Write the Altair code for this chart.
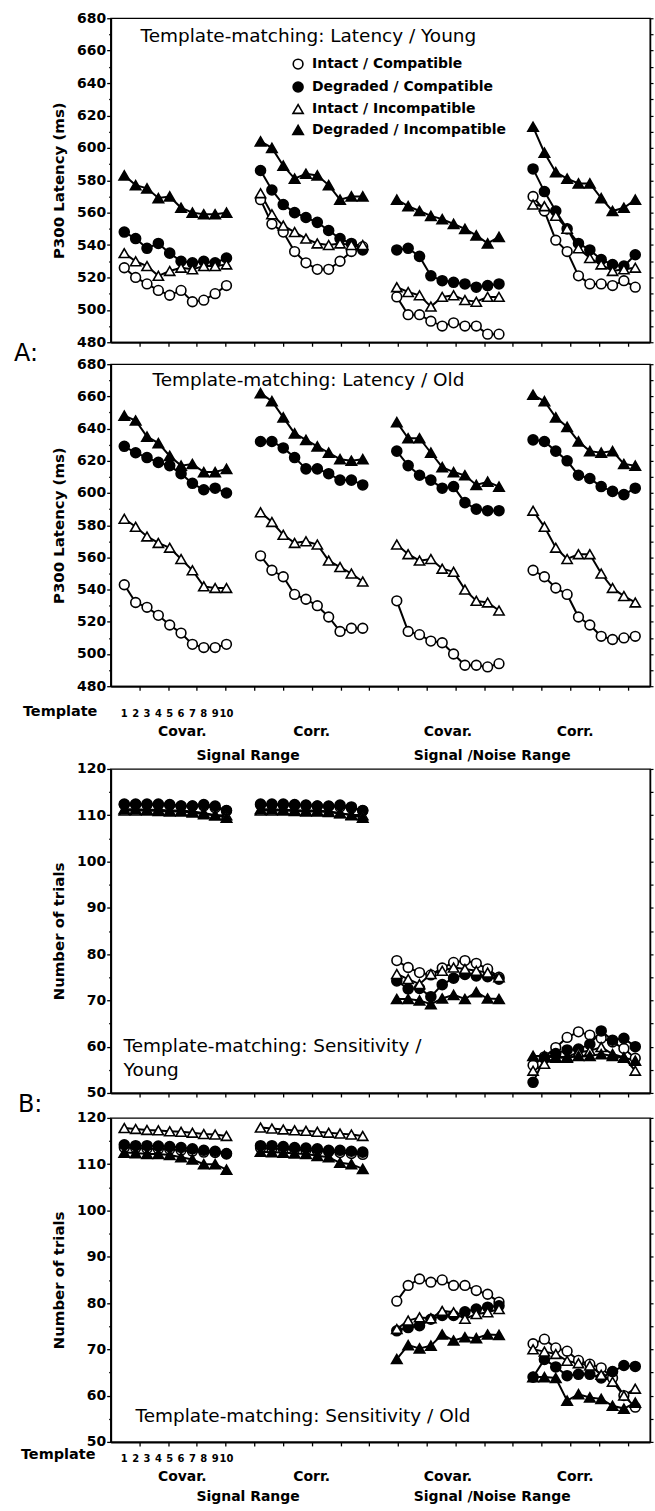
import altair as alt
import numpy as np
import pandas as pd

SERIES = ["Intact / Compatible", "Degraded / Compatible", "Intact / Incompatible", "Degraded / Incompatible"]
SHAPES = ["circle", "circle", "triangle-up", "triangle-up"]
FILLS = ["white", "black", "white", "black"]
STROKES = ["black", "black", "black", "black"]
SIZES = [95, 110, 130, 130]
TEMPLATES = list(range(1, 11))
GROUP_STEP = 12
GROUP_LABELS = ["Covar.", "Corr.", "Covar.", "Corr."]
GROUP_LABEL_X = [6.1, 17.5, 29.5, 40.7]
RANGE_LABELS = ["Signal Range", "Signal /Noise Range"]
RANGE_LABEL_X = [11.9, 33.4]

# ---- A: latency, young (4 groups x 10 templates) ----
lat_young_ic = [526, 520, 516, 512, 509, 512, 505, 506, 510, 515,
                568, 553, 548, 536, 529, 525, 525, 530, 536, 539,
                508, 497, 497, 493, 490, 492, 490, 490, 485, 485,
                570, 561, 543, 536, 521, 516, 516, 515, 518, 514]
lat_young_dc = [548, 544, 538, 541, 535, 530, 529, 530, 529, 532,
                586, 574, 565, 560, 557, 554, 549, 544, 541, 537,
                537, 538, 533, 521, 518, 517, 516, 514, 515, 516,
                587, 573, 561, 550, 541, 537, 531, 528, 527, 534]
lat_young_ii = [535, 530, 527, 521, 524, 526, 525, 527, 527, 528,
                572, 559, 552, 548, 544, 541, 540, 541, 540, 540,
                514, 511, 509, 502, 508, 509, 506, 505, 508, 508,
                565, 564, 558, 550, 538, 532, 528, 524, 525, 526]
lat_young_di = [583, 577, 575, 569, 570, 563, 560, 559, 559, 560,
                604, 600, 589, 581, 584, 583, 577, 568, 570, 570,
                568, 564, 561, 558, 556, 553, 550, 546, 541, 545,
                613, 597, 585, 581, 578, 578, 569, 561, 563, 568]

# ---- A: latency, old ----
lat_old_ic = [543, 532, 529, 524, 518, 513, 506, 504, 504, 506,
              561, 552, 548, 537, 534, 530, 523, 514, 516, 516,
              533, 514, 512, 508, 507, 500, 493, 493, 492, 494,
              552, 548, 541, 537, 523, 518, 511, 509, 510, 511]
lat_old_dc = [629, 625, 622, 619, 617, 612, 606, 602, 603, 600,
              632, 632, 628, 622, 615, 615, 612, 608, 608, 605,
              626, 617, 611, 608, 603, 604, 594, 590, 589, 589,
              633, 632, 626, 620, 611, 609, 604, 601, 599, 603]
lat_old_ii = [584, 579, 573, 569, 566, 559, 552, 542, 541, 541,
              588, 582, 574, 569, 570, 568, 558, 554, 550, 545,
              568, 562, 558, 559, 553, 551, 540, 533, 532, 527,
              589, 579, 566, 559, 562, 562, 550, 541, 536, 532]
lat_old_di = [648, 645, 635, 631, 623, 617, 618, 613, 613, 615,
              662, 657, 647, 637, 633, 629, 625, 621, 620, 621,
              644, 634, 634, 625, 616, 613, 611, 605, 607, 604,
              661, 657, 647, 641, 632, 626, 625, 626, 618, 617]

# ---- B: sensitivity, young ----
sens_young_ic = [112.3, 112.3, 112.3, 112.2, 112.2, 112.0, 112.0, 112.0, 111.6, 111.0,
                 112.2, 112.2, 112.2, 112.1, 112.1, 112.0, 111.9, 111.8, 111.5, 111.0,
                 78.6, 77.1, 76.0, 75.5, 77.0, 78.2, 78.6, 78.0, 76.8, 75.0,
                 56.0, 57.8, 59.8, 62.0, 63.2, 62.5, 61.8, 61.0, 59.6, 57.5]
sens_young_dc = [112.4, 112.4, 112.4, 112.4, 112.3, 112.0, 112.0, 112.3, 112.0, 111.0,
                 112.4, 112.4, 112.4, 112.3, 112.2, 112.0, 112.0, 112.2, 111.8, 111.0,
                 74.2, 72.5, 72.6, 70.8, 73.4, 74.8, 75.6, 75.3, 75.1, 74.6,
                 52.3, 57.5, 58.5, 59.3, 59.5, 60.5, 63.4, 61.4, 61.8, 60.0]
sens_young_ii = [111.0, 111.0, 111.0, 110.9, 110.8, 110.8, 110.6, 110.2, 110.0, 110.0,
                 111.0, 111.0, 111.0, 110.9, 110.8, 110.8, 110.7, 110.4, 110.1, 110.0,
                 75.7, 74.6, 73.5, 75.7, 76.4, 77.1, 76.8, 76.4, 76.0, 75.0,
                 54.8, 56.3, 57.7, 57.8, 58.8, 59.1, 59.9, 58.4, 57.7, 54.8]
sens_young_di = [111.3, 111.3, 111.2, 111.2, 111.0, 111.0, 110.8, 110.5, 110.0, 109.5,
                 111.3, 111.3, 111.2, 111.1, 111.0, 111.0, 110.8, 110.5, 110.0, 109.5,
                 70.3, 70.3, 70.0, 69.2, 70.4, 71.2, 70.3, 71.8, 70.4, 70.3,
                 58.0, 58.0, 57.6, 57.6, 58.0, 58.0, 58.4, 58.0, 57.6, 57.0]

# ---- B: sensitivity, old ----
sens_old_ic = [113.6, 113.5, 113.4, 113.3, 113.2, 113.0, 112.8, 112.6, 112.5, 112.2,
               113.5, 113.4, 113.3, 113.2, 113.0, 112.9, 112.7, 112.5, 112.3, 112.1,
               80.4, 83.8, 85.2, 84.5, 85.0, 83.8, 83.8, 82.7, 81.9, 80.2,
               71.2, 72.2, 70.3, 69.6, 67.6, 66.8, 66.0, 63.8, 60.0, 57.5]
sens_old_dc = [114.2, 114.0, 114.0, 113.9, 113.8, 113.6, 113.3, 113.0, 112.8, 112.3,
               114.0, 114.0, 113.8, 113.6, 113.5, 113.3, 113.0, 113.0, 112.8, 112.6,
               74.0, 74.7, 75.1, 76.5, 77.3, 77.3, 78.1, 78.7, 79.1, 79.4,
               64.0, 67.8, 66.2, 64.3, 64.6, 64.6, 63.8, 65.2, 66.5, 66.3]
sens_old_ii = [117.8, 117.6, 117.4, 117.3, 117.1, 117.0, 116.8, 116.5, 116.4, 116.1,
               117.9, 117.7, 117.5, 117.3, 117.2, 117.0, 116.8, 116.6, 116.4, 116.1,
               74.4, 76.2, 76.9, 76.7, 78.3, 78.0, 76.6, 77.6, 78.0, 78.7,
               70.0, 69.5, 69.0, 67.5, 67.0, 66.5, 64.5, 63.0, 60.0, 61.5]
sens_old_di = [112.5, 112.4, 112.2, 112.2, 112.0, 111.5, 111.0, 110.0, 110.0, 108.8,
               112.7, 112.6, 112.5, 112.3, 112.2, 111.8, 111.5, 110.3, 110.0, 109.0,
               67.9, 70.9, 70.2, 70.8, 73.2, 71.9, 72.6, 72.4, 73.2, 73.1,
               64.0, 64.0, 63.8, 58.9, 60.3, 59.6, 59.3, 57.8, 57.2, 58.5]


def long_df(series_lists):
    rows = []
    for name, vals in zip(SERIES, series_lists):
        for i, v in enumerate(vals):
            g, t = divmod(i, 10)
            rows.append({"series": name, "key": f"{name}-{g}",
                         "x": g * GROUP_STEP + TEMPLATES[t], "value": v})
    return pd.DataFrame(rows)


FONT = "DejaVu Sans"
W = 541
XDOM = [-0.2, 47.3]
XTICKS = [round(XDOM[0] + 2.53 * k, 3) for k in range(1, 19)]

LEGEND = alt.Legend(title=None, orient="none", legendX=181, legendY=39,
                    direction="vertical", labelLimit=300,
                    labelFont=FONT, labelFontWeight="bold", labelFontSize=14,
                    labelColor="black", symbolStrokeColor="black",
                    symbolStrokeWidth=1.6, rowPadding=5, labelOffset=7)


def label(text, x, y, size, weight="normal", align="left"):
    return alt.Chart(pd.DataFrame({"t": [text]})).mark_text(
        font=FONT, fontSize=size, fontWeight=weight, align=align,
        baseline="middle", color="black"
    ).encode(text="t:N", x=alt.value(x), y=alt.value(y))


def panel(df, ydom, major, minor, ytitle, H, texts, legend=False, bottom=None, anchor=False):
    xenc = alt.X("x:Q", scale=alt.Scale(domain=XDOM, nice=False, zero=False),
                 axis=alt.Axis(values=XTICKS, labels=False, title=None, tickSize=4,
                               tickWidth=1.3, tickColor="black", domainColor="black",
                               domainWidth=2, grid=False))
    yscale = alt.Scale(domain=ydom, nice=False, zero=False)
    yvals = [float(v) for v in np.arange(ydom[0], ydom[1] + 0.001, minor)]
    yleft = alt.Y("value:Q", scale=yscale, axis=alt.Axis(
        values=yvals, title=ytitle, grid=False,
        labelExpr=f"datum.value % {major} === 0 ? datum.label : ''",
        tickSize={"condition": {"test": f"datum.value % {major} === 0", "value": 4}, "value": 2},
        labelOverlap=False, labelPadding=1, titlePadding=10,
        labelFont=FONT, labelFontWeight="bold", labelFontSize=14, labelColor="black",
        titleFont=FONT, titleFontWeight="bold", titleFontSize=15, titleColor="black",
        domainWidth=2, domainColor="black", tickColor="black", tickWidth=1.3))
    ynone = alt.Y("value:Q", scale=yscale, axis=None)
    yright = alt.Y("value:Q", scale=yscale, axis=alt.Axis(
        orient="right", values=yvals, labels=False, title=None, tickSize=3, grid=False,
        domainColor="black", domainWidth=1.5, tickColor="black", tickWidth=1.2))

    leg = LEGEND if legend else None
    shape = alt.Shape("series:N", scale=alt.Scale(domain=SERIES, range=SHAPES), legend=leg)
    fill = alt.Fill("series:N", scale=alt.Scale(domain=SERIES, range=FILLS), legend=leg)
    stroke = alt.Stroke("series:N", scale=alt.Scale(domain=SERIES, range=STROKES), legend=leg)
    size = alt.Size("series:N", scale=alt.Scale(domain=SERIES, range=SIZES), legend=leg)

    base = alt.Chart(df)
    lines = base.mark_line(color="black", strokeWidth=2).encode(
        x=xenc, y=yleft, detail="key:N", order="x:Q")
    pts = base.mark_point(filled=False, opacity=1, strokeWidth=1.6).encode(
        x=xenc, y=ynone, shape=shape, fill=fill, stroke=stroke, size=size)
    right = base.mark_point(opacity=0).encode(x=xenc, y=yright)

    layers = [lines, pts, right]
    layers += [label(*t) for t in texts]
    if bottom is not None:
        dy_num, dy_group, dy_range = bottom
        nums = alt.Chart(pd.DataFrame({"x": TEMPLATES, "t": [str(t) for t in TEMPLATES]})).mark_text(
            font=FONT, fontSize=10, fontWeight="bold", baseline="middle", color="black"
        ).encode(x=xenc, y=alt.value(H + dy_num), text="t:N")
        groups = alt.Chart(pd.DataFrame({"x": GROUP_LABEL_X, "t": GROUP_LABELS})).mark_text(
            font=FONT, fontSize=14, fontWeight="bold", baseline="middle", color="black"
        ).encode(x=xenc, y=alt.value(H + dy_group), text="t:N")
        ranges = alt.Chart(pd.DataFrame({"x": RANGE_LABEL_X, "t": RANGE_LABELS})).mark_text(
            font=FONT, fontSize=14, fontWeight="bold", baseline="middle", color="black"
        ).encode(x=xenc, y=alt.value(H + dy_range), text="t:N")
        layers += [nums, groups, ranges]
    if anchor:
        layers.append(alt.Chart(pd.DataFrame({"a": [0]})).mark_rule(
            strokeOpacity=0, strokeWidth=0.01).encode(
            x=alt.value(-110), x2=alt.value(-109), y=alt.value(-15), y2=alt.value(-15)))
    return alt.layer(*layers).resolve_axis(y="independent").properties(width=W, height=H)


def spacer(h):
    return alt.Chart(pd.DataFrame({"a": [0]})).mark_rule(strokeOpacity=0).encode(
        x=alt.value(0), x2=alt.value(1), y=alt.value(0)
    ).properties(width=W, height=h, view=alt.ViewBackground(stroke="transparent"))


H1, H2, H3, H4 = 325, 323, 325, 325

p1 = panel(long_df([lat_young_ic, lat_young_dc, lat_young_ii, lat_young_di]),
           [480, 680], 20, 10, "P300 Latency (ms)", H1,
           [("Template-matching: Latency / Young", 30, 18, 18.5)], legend=True, anchor=True)

p2 = panel(long_df([lat_old_ic, lat_old_dc, lat_old_ii, lat_old_di]),
           [480, 680], 20, 10, "P300 Latency (ms)", H2,
           [("Template-matching: Latency / Old", 42, 16, 18.5),
            ("A:", -97, -10, 24),
            ("Template", -88, H2 + 26, 14.5, "bold")],
           bottom=(28, 46, 70))

p3 = panel(long_df([sens_young_ic, sens_young_dc, sens_young_ii, sens_young_di]),
           [50, 120], 10, 5, "Number of trials", H3,
           [("Template-matching: Sensitivity /", 13, 278, 18.5),
            ("Young", 13, 302, 18.5)])

p4 = panel(long_df([sens_old_ic, sens_old_dc, sens_old_ii, sens_old_di]),
           [50, 120], 10, 5, "Number of trials", H4,
           [("Template-matching: Sensitivity / Old", 25, 299, 18.5),
            ("B:", -93, -13, 24),
            ("Template", -90, H4 + 13, 14.5, "bold")],
           bottom=(17, 35, 55))

chart = alt.vconcat(p1, spacer(22), p2, spacer(83), p3, spacer(25), p4,
                    spacing=0, bounds="flush").resolve_scale(
    shape="independent", fill="independent", stroke="independent", size="independent"
).properties(padding=0, background="white").configure_view(stroke="black", strokeWidth=1.3)

chart.save("out.html", embed_options={"renderer": "svg", "actions": False})
